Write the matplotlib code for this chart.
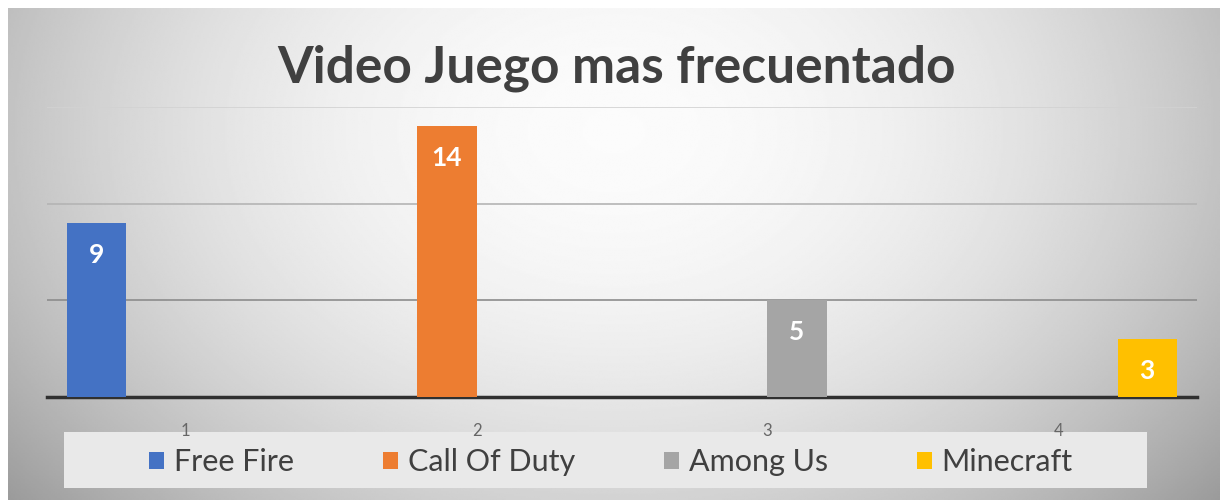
import matplotlib.pyplot as plt
import numpy as np
from matplotlib.patches import Rectangle

plt.rcParams['font.family'] = ['Lato', 'DejaVu Sans']

# data (empty cells left as nan, like the source sheet)
categories = [1, 2, 3, 4]
tick_labels = ['1', '2', '3', '4']
series_names = ['Free Fire', 'Call Of Duty', 'Among Us', 'Minecraft']
free_fire = [9, np.nan, np.nan, np.nan]
call_of_duty = [np.nan, 14, np.nan, np.nan]
among_us = [np.nan, np.nan, 5, np.nan]
minecraft = [np.nan, np.nan, np.nan, 3]
colors = ['#4472C4', '#ED7D31', '#A5A5A5', '#FFC000']

W, H = 1220, 500
fig = plt.figure(figsize=(W / 100, H / 100), dpi=100)

# radial-ish grey gradient behind the chart
bg = fig.add_axes([8 / W, 0, 1 - 8 / W, 492 / H], zorder=0)
yy, xx = np.mgrid[0:1:300j, 0:1:600j]
ux = (xx - 0.5) / 0.5
uy = (yy - 0.25) / 0.5
shade = np.clip(0.985 - 0.22 * ux ** 2 - 0.07 * uy ** 2, 0, 1)
bg.imshow(shade, cmap='gray', vmin=0, vmax=1, aspect='auto', interpolation='bilinear')
bg.set_axis_off()

# legend box
fig.patches.append(Rectangle((64 / W, 12 / H), (1147 - 64) / W, 56 / H,
                             transform=fig.transFigure, facecolor='#e9e9e9',
                             edgecolor='none', zorder=1))

ax = fig.add_axes([47 / W, 103 / H, 1150 / W, 290 / H], zorder=2)
ax.set_facecolor('none')

x = np.array(categories, dtype=float)
width = 0.203
all_series = [free_fire, call_of_duty, among_us, minecraft]
handles = []
for i, (vals, col) in enumerate(zip(all_series, colors)):
    pos = x + (i - 1.5) * width
    bars = ax.bar(pos, vals, width=width, color=col, zorder=3)
    handles.append(bars)
    for px, v in zip(pos, vals):
        if not np.isnan(v):
            ax.annotate(str(v), (px, v), xytext=(0, -23), textcoords='offset points',
                        ha='center', va='center', color='white',
                        fontsize=19, fontweight='bold', zorder=4)

# gridlines
for gv, gc in zip([5, 10, 15], ['#8c8c8c', '#b4b4b4', '#d2d2d2']):
    ax.axhline(gv, color=gc, lw=1.2, zorder=1)

ax.set_xlim(0.524, 4.476)
ax.set_ylim(0, 15)
ax.set_yticks([])
ax.set_xticks(categories)
ax.set_xticklabels(tick_labels, fontsize=12, color='#666666')
ax.tick_params(axis='x', length=0, pad=19)
for s in ['top', 'left', 'right']:
    ax.spines[s].set_visible(False)
ax.spines['bottom'].set_color('#303030')
ax.spines['bottom'].set_linewidth(2.5)

fig.text(617 / W, 1 - 68 / H, 'Video Juego mas frecuentado', ha='center', va='center',
         fontsize=37, fontweight='bold', color='#404040')

fig.legend(handles, series_names, loc='center', bbox_to_anchor=(611 / W, 1 - 462 / H),
           ncol=4, frameon=False, fontsize=22, handlelength=0.49, handleheight=0.49,
           handletextpad=0.33, columnspacing=2.9, labelcolor='#404040')

fig.savefig('out.png', dpi=100)
